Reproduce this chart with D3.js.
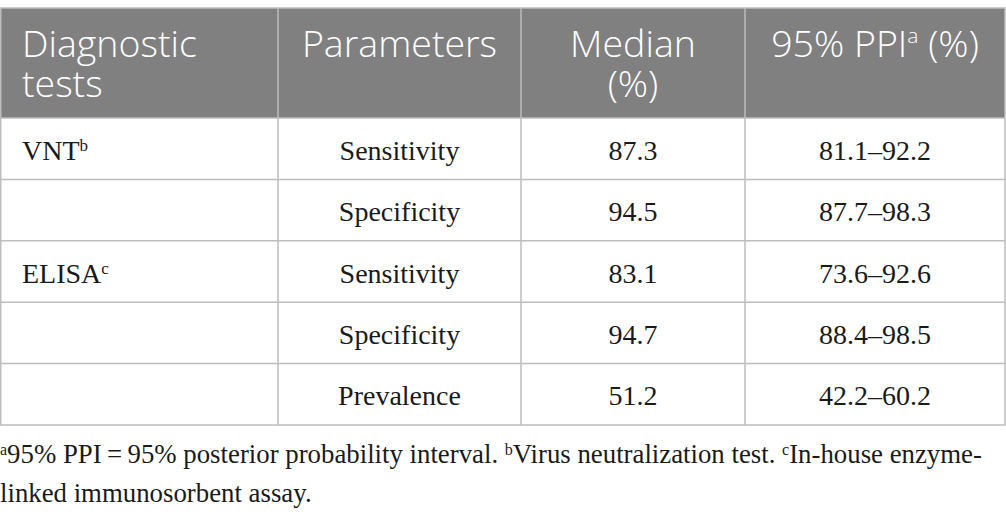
<!DOCTYPE html>
<html>
<head>
<meta charset="utf-8">
<script src="https://cdn.jsdelivr.net/npm/d3@7"></script>
<style>
  html, body { margin: 0; padding: 0; background: #fff; }
  svg { display: block; }
</style>
</head>
<body>
<script>
// table content
const headers = [['Diagnostic', 'tests'], ['Parameters'], ['Median', '(%)'], ['95% PPI|a| (%)']];
const tests = ['VNT|b|', '', 'ELISA|c|', '', ''];
const params = ['Sensitivity', 'Specificity', 'Sensitivity', 'Specificity', 'Prevalence'];
const medians = ['87.3', '94.5', '83.1', '94.7', '51.2'];
const intervals = ['81.1–92.2', '87.7–98.3', '73.6–92.6', '88.4–98.5', '42.2–60.2'];
const footnotes = [
  '|a|95% PPI\u2009=\u200995% posterior probability interval. |b|Virus neutralization test. |c|In-house enzyme-',
  'linked immunosorbent assay.'
];

const W = 1006, H = 519;
const colEdges = [0, 278, 521, 745, 1005];
const tableTop = 8, headBottom = 118, tableBottom = 425;
const lineColor = '#bdbdbd';

const svg = d3.select('body').append('svg').attr('width', W).attr('height', H);

const colX = i => colEdges[i];
const y = d3.scaleBand().domain(d3.range(params.length)).range([headBottom, tableBottom]);

// writes a string with |x| marking superscripts into a text node
function richText(sel, str, supSize) {
  str.split('|').forEach((part, i) => {
    if (!part) return;
    const t = sel.append('tspan').text(part);
    if (i % 2 === 1) t.attr('font-size', supSize).attr('baseline-shift', 'super');
  });
}

// header band
svg.append('rect')
  .attr('x', 0).attr('y', tableTop)
  .attr('width', colEdges[4]).attr('height', headBottom - tableTop)
  .attr('fill', '#808080');

headers.forEach((lines, c) => {
  const t = svg.append('text')
    .attr('font-family', '"Open Sans", sans-serif')
    .attr('font-weight', 300)
    .attr('font-size', 37.5)
    .attr('fill', '#fff')
    .attr('text-anchor', c === 0 ? 'start' : 'middle');
  lines.forEach((ln, k) => {
    const tl = t.append('tspan')
      .attr('x', c === 0 ? colX(0) + 22 : (colX(c) + colX(c + 1)) / 2)
      .attr('y', 57 + k * 40);
    richText(tl, ln, 21);
  });
});

// body cells
const bodyCols = [tests, params, medians, intervals];
bodyCols.forEach((vals, c) => {
  svg.selectAll(null)
    .data(vals)
    .enter()
    .append('text')
      .attr('x', c === 0 ? colX(0) + 22 : (colX(c) + colX(c + 1)) / 2)
      .attr('y', (d, i) => y(i) + y.bandwidth() / 2 + 11)
      .attr('text-anchor', c === 0 ? 'start' : 'middle')
      .attr('font-family', '"Liberation Serif", "Times New Roman", serif')
      .attr('font-size', 28)
      .attr('fill', '#1a1a1a')
      .each(function (d) { richText(d3.select(this), d, 17); });
});

// grid lines
const g = svg.append('g').attr('stroke', lineColor).attr('stroke-width', 1.5).attr('fill', 'none');
g.append('rect').attr('x', 0.75).attr('y', tableTop).attr('width', colEdges[4] - 0.75).attr('height', tableBottom - tableTop);
g.selectAll('line.h')
  .data(d3.range(params.length))
  .enter().append('line')
    .attr('x1', 0).attr('x2', colEdges[4])
    .attr('y1', d => y(d)).attr('y2', d => y(d));
g.selectAll('line.v')
  .data([1, 2, 3])
  .enter().append('line')
    .attr('x1', d => colX(d)).attr('x2', d => colX(d))
    .attr('y1', tableTop).attr('y2', tableBottom);

// footnote
footnotes.forEach((ln, k) => {
  const t = svg.append('text')
    .attr('x', 0).attr('y', 463 + k * 39)
    .attr('font-family', '"Liberation Serif", "Times New Roman", serif')
    .attr('font-size', 26.8)
    .attr('fill', '#1a1a1a');
  richText(t, ln, 16);
});
</script>
</body>
</html>
